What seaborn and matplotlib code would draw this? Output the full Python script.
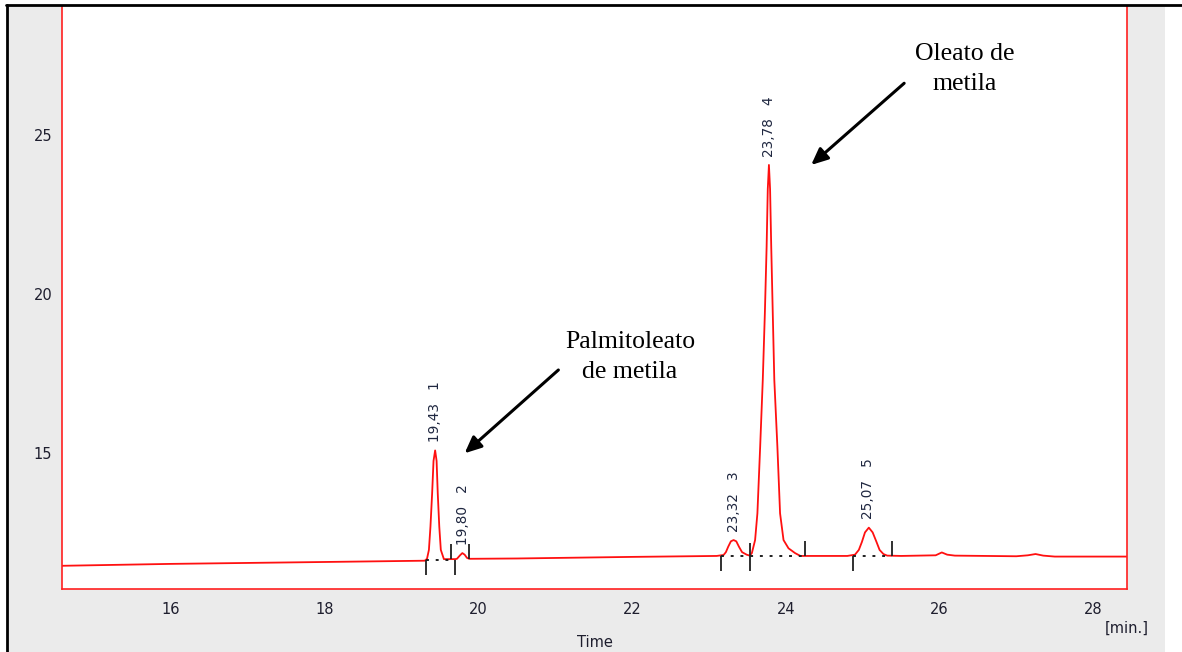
import numpy as np
import pandas as pd
import matplotlib
matplotlib.use("Agg")
import matplotlib.pyplot as plt
from matplotlib.patches import Rectangle
from matplotlib.lines import Line2D
import seaborn as sns

# ---------------- data ----------------
time = [14.58, 16.00, 18.00, 19.30, 19.33, 19.355, 19.375, 19.397, 19.415, 19.436,
        19.455, 19.47, 19.49, 19.51, 19.55, 19.60, 19.70, 19.72, 19.76, 19.79,
        19.82, 19.85, 19.88, 20.50, 22.00, 23.10, 23.19, 23.22, 23.25, 23.285,
        23.32, 23.355, 23.39, 23.43, 23.49, 23.53, 23.558, 23.60, 23.63, 23.666,
        23.70, 23.727, 23.75, 23.765, 23.78, 23.795, 23.81, 23.83, 23.85, 23.89,
        23.925, 23.97, 24.035, 24.12, 24.19, 24.80, 24.90, 24.95, 24.99, 25.03,
        25.08, 25.13, 25.18, 25.22, 25.27, 25.32, 25.50, 25.95, 26.03, 26.10,
        26.20, 27.00, 27.15, 27.25, 27.35, 27.50, 28.44]
signal = [11.45, 11.51, 11.57, 11.61, 11.67, 11.95, 12.68, 13.73, 14.75, 15.08,
          14.75, 13.73, 12.68, 11.95, 11.66, 11.66, 11.66, 11.67, 11.78, 11.85,
          11.80, 11.70, 11.67, 11.68, 11.73, 11.76, 11.79, 11.88, 12.05, 12.22,
          12.26, 12.22, 12.05, 11.88, 11.80, 11.77, 11.85, 12.26, 13.10, 15.20,
          17.30, 19.39, 21.49, 23.30, 24.06, 23.30, 21.49, 19.39, 17.30, 15.20,
          13.10, 12.26, 12.00, 11.85, 11.76, 11.76, 11.80, 11.95, 12.20, 12.50,
          12.65, 12.50, 12.20, 11.95, 11.82, 11.77, 11.76, 11.78, 11.87, 11.80,
          11.77, 11.75, 11.78, 11.82, 11.77, 11.74, 11.74]

peak_rt = [19.43, 19.80, 23.32, 23.78, 25.07]
peak_apex = [15.08, 11.85, 12.26, 24.06, 12.65]
peak_num = [1, 2, 3, 4, 5]

marker_t = [19.32, 19.64, 19.70, 19.88, 23.16, 23.53, 24.25, 24.87, 25.38]
marker_level = [11.64, 11.67, 11.64, 11.67, 11.76, 11.76, 11.76, 11.76, 11.76]
marker_side = ["below", "above", "below", "above", "below", "both", "above", "below", "above"]

base_start = [19.32, 23.16, 24.87]
base_end = [19.70, 24.25, 25.38]
base_level = [11.64, 11.76, 11.76]

x_ticks = [16, 18, 20, 22, 24, 26, 28]
y_ticks = [15, 20, 25]

annotations = [
    {"text": "Palmitoleato\nde metila", "tip": (19.82, 14.99), "tail": (21.04, 17.61), "pos": (21.97, 18.02)},
    {"text": "Oleato de\nmetila", "tip": (24.33, 24.06), "tail": (25.54, 26.63), "pos": (26.33, 27.08)},
]

# ---------------- figure ----------------
sns.set_style("white")
W, H = 1182, 652
fig = plt.figure(figsize=(W / 100, H / 100), dpi=100)
fig.patch.set_facecolor("white")

fig.patches.append(Rectangle((7 / W, 0), (1165 - 7) / W, 1 - 6 / H,
                             transform=fig.transFigure, facecolor="#ebebeb",
                             edgecolor="none", zorder=-10))
fig.lines.append(Line2D([7 / W, 7 / W], [0, 1 - 5 / H], transform=fig.transFigure,
                        color="black", lw=2, zorder=5))
fig.lines.append(Line2D([6 / W, 1], [1 - 5 / H, 1 - 5 / H], transform=fig.transFigure,
                        color="black", lw=2, zorder=5))

ax = fig.add_axes([62 / W, 1 - 589 / H, (1127 - 62) / W, (589 - 6) / H])
ax.set_facecolor("white")

df = pd.DataFrame({"Time": time, "Signal": signal})
sns.lineplot(data=df, x="Time", y="Signal", color="#ff1010", lw=1.3,
             estimator=None, sort=False, ax=ax)

ax.set_xlim(14.58, 28.44)
ax.set_ylim(10.72, 29.06)

# integration markers
tick_len = 0.47
for t, lvl, side in zip(marker_t, marker_level, marker_side):
    if side == "below":
        y0, y1 = lvl - tick_len, lvl
    elif side == "above":
        y0, y1 = lvl, lvl + tick_len
    else:
        y0, y1 = lvl - tick_len, lvl + tick_len * 0.85
    ax.vlines(t, y0, y1, color="#202020", lw=1.3, zorder=4)

for s, e, lvl in zip(base_start, base_end, base_level):
    ax.plot([s, e], [lvl, lvl], color="#202020", lw=1.4, ls=(0, (1.5, 3.5)), zorder=3)

# peak labels
label_color = "#1f2740"
for rt, ap, n in zip(peak_rt, peak_apex, peak_num):
    ax.annotate(f"{rt:.2f}".replace(".", ",") + "   " + str(n), xy=(rt, ap),
                xytext=(0, 6), textcoords="offset points", rotation=90,
                ha="center", va="bottom", fontsize=9.8, color=label_color)

# arrows and descriptions
for a in annotations:
    ax.annotate("", xy=a["tip"], xytext=a["tail"],
                arrowprops=dict(arrowstyle="-|>,head_length=1.0,head_width=0.45",
                                color="black", lw=2.2, shrinkA=0, shrinkB=0))
    ax.text(a["pos"][0], a["pos"][1], a["text"], ha="center", va="center",
            fontsize=18.5, family="Liberation Serif", color="black", linespacing=1.5)

# axes styling
for side in ["left", "right", "bottom"]:
    ax.spines[side].set_visible(True)
    ax.spines[side].set_color("#ff2020")
    ax.spines[side].set_linewidth(1.2)
ax.spines["top"].set_visible(False)

ax.set_xticks(x_ticks)
ax.set_yticks(y_ticks)
ax.tick_params(axis="both", direction="out", length=5, width=1.2, color="#ff2020",
               labelcolor="#1e1e2e", labelsize=10.5)
ax.tick_params(axis="x", pad=4)
ax.tick_params(axis="y", pad=2)
ax.set_xlabel("Time", fontsize=10.5, color="#1e1e2e", labelpad=13)
ax.set_ylabel("")

fig.text(1127 / W, 1 - 628 / H, "[min.]", ha="center", va="center", fontsize=10.5,
         color="#1e1e2e")

fig.savefig("out.png", dpi=100)
